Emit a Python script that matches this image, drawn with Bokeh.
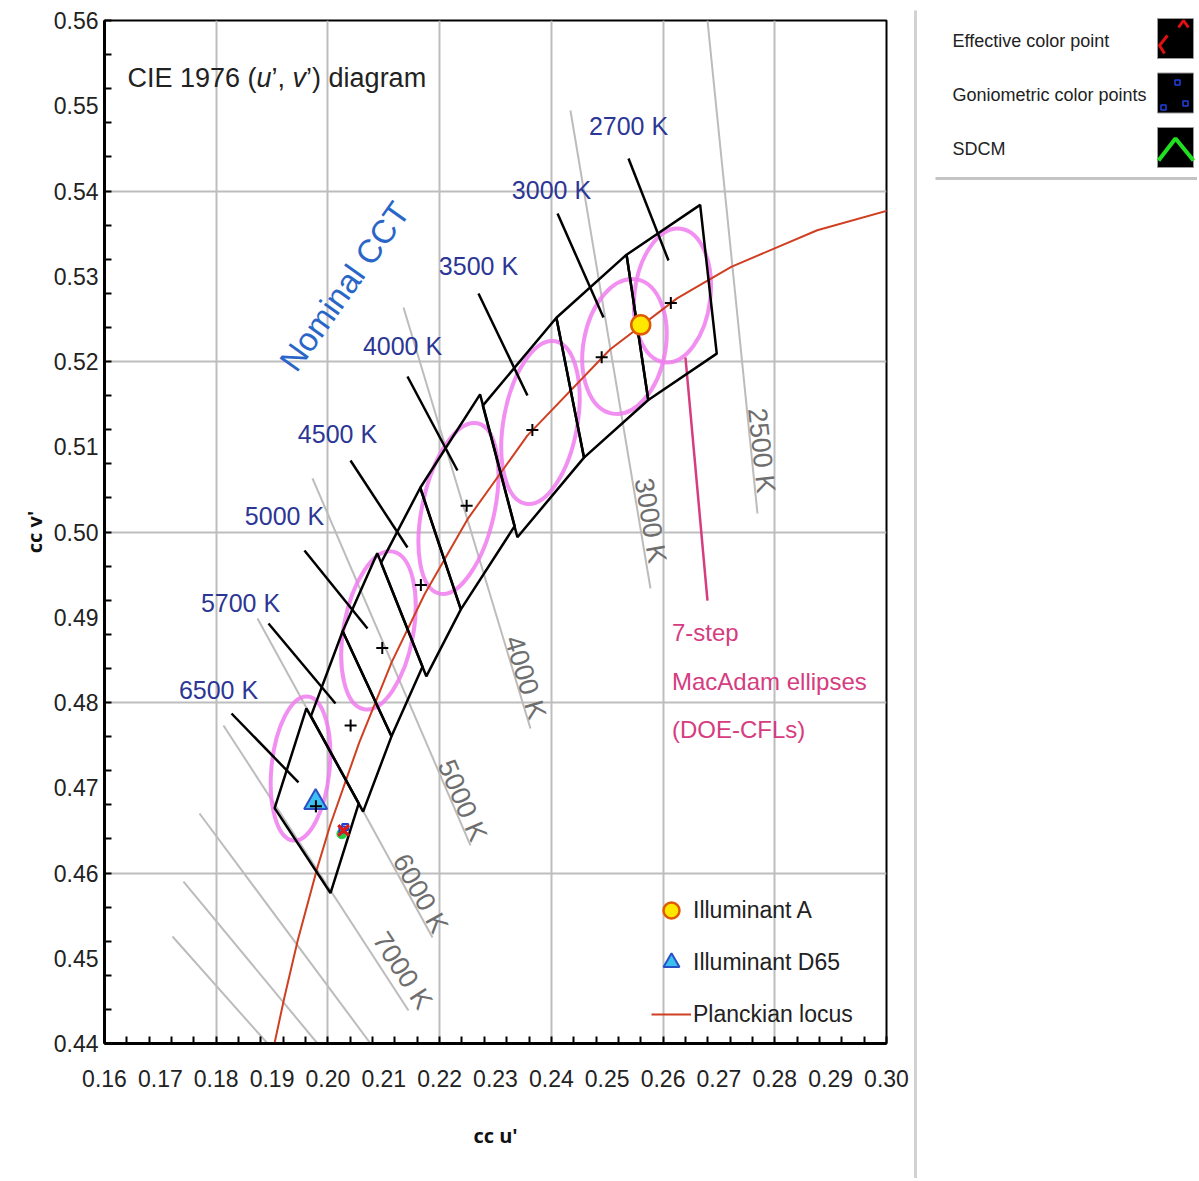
import numpy as np
from bokeh.plotting import figure
from bokeh.layouts import row
from bokeh.models import FixedTicker, Label, Legend, LegendItem, Range1d
from bokeh.embed import file_html
from bokeh.resources import INLINE
from bokeh.core.properties import value

SANS = "Liberation Sans"

# ---------------- data ----------------
x_tick_labels = ["0.16", "0.17", "0.18", "0.19", "0.20", "0.21", "0.22", "0.23",
                 "0.24", "0.25", "0.26", "0.27", "0.28", "0.29", "0.30"]
y_tick_labels = ["0.44", "0.45", "0.46", "0.47", "0.48", "0.49", "0.50", "0.51",
                 "0.52", "0.53", "0.54", "0.55", "0.56"]

# Planckian locus
planck_u = [0.1904, 0.1922, 0.1946, 0.1981, 0.2004, 0.2056, 0.2114, 0.2173,
            0.2251, 0.2357, 0.2505, 0.2625, 0.2722, 0.2876, 0.3051]
planck_v = [0.4399, 0.4454, 0.4521, 0.4606, 0.4656, 0.4753, 0.4847, 0.4927,
            0.5016, 0.5113, 0.5214, 0.5274, 0.5311, 0.5354, 0.5386]

# nominal CCT quadrangles
cct_names = ["2700 K", "3000 K", "3500 K", "4000 K", "4500 K", "5000 K", "5700 K", "6500 K"]
quad_u = [[0.26664, 0.25346, 0.25735, 0.26961],
          [0.25346, 0.24090, 0.24584, 0.25735],
          [0.24090, 0.22773, 0.23392, 0.24584],
          [0.22724, 0.21653, 0.22380, 0.23343],
          [0.21653, 0.20952, 0.21761, 0.22380],
          [0.20883, 0.20264, 0.21138, 0.21693],
          [0.20264, 0.19696, 0.20630, 0.21138],
          [0.19614, 0.19046, 0.20046, 0.20552]]
quad_v = [[0.53837, 0.53253, 0.51548, 0.52092],
          [0.53253, 0.52513, 0.50873, 0.51548],
          [0.52513, 0.51483, 0.49938, 0.50873],
          [0.51614, 0.50519, 0.49092, 0.50069],
          [0.50519, 0.49640, 0.48307, 0.49092],
          [0.49752, 0.48836, 0.47603, 0.48420],
          [0.48836, 0.47840, 0.46720, 0.47603],
          [0.47931, 0.46761, 0.45765, 0.46816]]
center_u = [0.26139, 0.24901, 0.23660, 0.22483, 0.21664, 0.20973, 0.20406, 0.19785]
center_v = [0.52685, 0.52049, 0.51197, 0.50308, 0.49377, 0.48640, 0.47731, 0.46783]

# CCT label positions and pointer lines
label_u = [0.25381, 0.24002, 0.22695, 0.21335, 0.20171, 0.19222, 0.18435, 0.18041]
label_v = [0.54768, 0.54006, 0.53126, 0.52176, 0.51144, 0.50182, 0.49173, 0.48152]
ptr_u0 = [0.25381, 0.24110, 0.22695, 0.21424, 0.20404, 0.19580, 0.18936, 0.18274]
ptr_v0 = [0.54381, 0.53736, 0.52798, 0.51824, 0.50839, 0.49783, 0.48927, 0.47871]
ptr_u1 = [0.26097, 0.24933, 0.23572, 0.22319, 0.21424, 0.20708, 0.20135, 0.19473]
ptr_v1 = [0.53185, 0.52516, 0.51601, 0.50721, 0.49818, 0.48868, 0.47988, 0.47062]

# isotherm (CCT) lines
iso_names = ["2500 K", "3000 K", "4000 K", "5000 K", "6000 K", "7000 K"]
iso_u0 = [0.26795, 0.24342, 0.21353, 0.19724, 0.18739, 0.18130, 0.17701, 0.17414, 0.17217]
iso_v0 = [0.56000, 0.54944, 0.52633, 0.50628, 0.48985, 0.47730, 0.46698, 0.45900, 0.45255]
iso_u1 = [0.27690, 0.25775, 0.23626, 0.22552, 0.21872, 0.21442, 0.20762, 0.19813, 0.18918]
iso_v1 = [0.50217, 0.49337, 0.47695, 0.46323, 0.45243, 0.44387, 0.44000, 0.44000, 0.44000]
iso_lab_u = [0.27762, 0.25775, 0.23537, 0.22409, 0.21657, 0.21335]
iso_lab_v = [0.50956, 0.50135, 0.48293, 0.46850, 0.45759, 0.44856]
iso_lab_angle = [-1.463, -1.405, -1.278, -1.164, -1.070, -0.995]

# 7-step MacAdam ellipses (DOE-CFLs)
ell_u = [0.19509, 0.20905, 0.22337, 0.23805, 0.25309, 0.26168]
ell_v = [0.47226, 0.48845, 0.50276, 0.51284, 0.52176, 0.52774]
ell_w = [0.0104, 0.0125, 0.0129, 0.0132, 0.0147, 0.0136]
ell_h = [0.0170, 0.0188, 0.0205, 0.0194, 0.0160, 0.0158]
ell_angle = [-0.10, -0.18, -0.22, -0.18, -0.18, -0.12]
mac_ptr_u = [0.26401, 0.26795]
mac_ptr_v = [0.52047, 0.49196]
mac_text = ["7-step", "MacAdam ellipses", "(DOE-CFLs)"]
mac_text_u = [0.26160, 0.26160, 0.26160]
mac_text_v = [0.48821, 0.48246, 0.47683]

# illuminants and measured points
illA_u, illA_v = [0.2560], [0.5243]
d65_u, d65_v = [0.1978], [0.4683]
eff_u, eff_v = [0.2028], [0.4650]
gonio_u, gonio_v = [0.2031, 0.2026], [0.4654, 0.4651]
sdcm_u, sdcm_v = [0.2025], [0.4646]

panel_names = ["Effective color point", "Goniometric color points", "SDCM"]

# ---------------- main figure ----------------
x_vals = [float(s) for s in x_tick_labels]
y_vals = [float(s) for s in y_tick_labels]
x_minor = [round(v, 3) for v in np.arange(0.16, 0.3001, 0.004)]
y_minor = [round(v, 3) for v in np.arange(0.44, 0.5601, 0.004)]

p = figure(width=913, height=1178, x_range=Range1d(0.16, 0.30), y_range=Range1d(0.44, 0.56),
           toolbar_location=None, output_backend="svg",
           min_border_left=104, min_border_right=27, min_border_top=20, min_border_bottom=135)
p.background_fill_color = "white"
p.border_fill_color = "white"
p.outline_line_color = "black"
p.outline_line_width = 2
p.frame_align = False

for ax, vals, labels, minor in ((p.xaxis[0], x_vals, x_tick_labels, x_minor),
                                (p.yaxis[0], y_vals, y_tick_labels, y_minor)):
    ax.ticker = FixedTicker(ticks=vals, minor_ticks=minor)
    ax.major_label_overrides = {v: s for v, s in zip(vals, labels)}
    ax.major_tick_line_color = None
    ax.major_tick_in = 0
    ax.major_tick_out = 0
    ax.minor_tick_in = 7
    ax.minor_tick_out = 0
    ax.minor_tick_line_color = "black"
    ax.minor_tick_line_width = 2
    ax.axis_line_color = "black"
    ax.axis_line_width = 3
    ax.major_label_text_font = SANS
    ax.major_label_text_font_size = "23px"
    ax.major_label_text_color = "#222222"
    ax.axis_label_text_font = "Open Sans"
    ax.axis_label_text_font_style = "bold"
    ax.axis_label_text_font_size = "20px"
    ax.axis_label_text_color = "#111111"

p.xaxis.axis_label = "cc u'"
p.yaxis.axis_label = "cc v'"
p.xaxis.major_label_standoff = 26
p.yaxis.major_label_standoff = 6
p.xaxis.axis_label_standoff = 32
p.yaxis.axis_label_standoff = 3

p.xgrid.ticker = FixedTicker(ticks=x_vals[::2])
p.ygrid.ticker = FixedTicker(ticks=y_vals[::2])
for g in (p.xgrid, p.ygrid):
    g.grid_line_color = "#bdbdbd"
    g.grid_line_width = 2

# isotherm lines
p.segment(x0=iso_u0, y0=iso_v0, x1=iso_u1, y1=iso_v1, line_color="#bcbcbc", line_width=2)
p.text(x=iso_lab_u, y=iso_lab_v, text=iso_names, angle=iso_lab_angle,
       text_font=value(SANS), text_font_size="27px", text_color="#6e6e6e",
       text_align="center", text_baseline="middle")

# MacAdam ellipses
p.ellipse(x=ell_u, y=ell_v, width=ell_w, height=ell_h, angle=ell_angle,
          fill_color=None, line_color="#f07cf0", line_width=4, line_alpha=0.85)
p.line(x=mac_ptr_u, y=mac_ptr_v, line_color="#d63c80", line_width=2.5)
p.text(x=mac_text_u, y=mac_text_v, text=mac_text, text_font=value(SANS),
       text_font_size="24px", text_color="#d63c80", text_align="left", text_baseline="middle")

# Planckian locus
planck_r = p.line(x=planck_u, y=planck_v, line_color="#cf3f22", line_width=2)

# quadrangles and nominal CCT labels
p.patches(xs=quad_u, ys=quad_v, fill_color=None, line_color="black", line_width=2.5)
p.segment(x0=ptr_u0, y0=ptr_v0, x1=ptr_u1, y1=ptr_v1, line_color="black", line_width=2.5)
p.scatter(x=center_u, y=center_v, marker="cross", size=12, line_color="black", line_width=2)
p.text(x=label_u, y=label_v, text=cct_names, text_font=value(SANS), text_font_size="25px",
       text_color="#2c3694", text_align="center", text_baseline="middle")

p.add_layout(Label(x=0.20296, y=0.52880, text="Nominal CCT", angle=0.953,
                   text_font=SANS, text_font_size="33px", text_color="#2a66c8",
                   text_align="center", text_baseline="middle"))

# illuminants
illA_r = p.scatter(x=illA_u, y=illA_v, marker="circle", size=19, fill_color="#ffe800",
                   line_color="#e05a00", line_width=2.5)
d65_r = p.scatter(x=d65_u, y=d65_v, marker="triangle", size=23, fill_color="#3cc0f0",
                  line_color="#2a50c8", line_width=2)
p.scatter(x=center_u[-1:], y=center_v[-1:], marker="cross", size=12, line_color="black", line_width=2)

# measured points
p.scatter(x=sdcm_u, y=sdcm_v, marker="circle", size=10, fill_color="#22cc44", line_color="#22cc44")
p.scatter(x=gonio_u, y=gonio_v, marker="square", size=6, fill_color=None, line_color="#2040d0", line_width=2)
p.scatter(x=eff_u, y=eff_v, marker="x", size=15, line_color="#e01818", line_width=3)

# title in pieces (italic u and v)
title_parts = ["CIE 1976 (", "u", "\u2019, ", "v", "\u2019) diagram"]
title_styles = ["normal", "italic", "normal", "italic", "normal"]
title_em = [4.78, 0.556, 0.778, 0.5, 4.445]
title_size = 27
off = 0.0
for part, st, em in zip(title_parts, title_styles, title_em):
    p.add_layout(Label(x=0.16412, y=0.55320, x_offset=off, text=part, text_font=SANS,
                       text_font_style=st, text_font_size=f"{title_size}px", text_color="#222222",
                       text_baseline="alphabetic"))
    off += em * title_size

# in-plot legend
legend = Legend(items=[LegendItem(label="Illuminant A", renderers=[illA_r]),
                       LegendItem(label="Illuminant D65", renderers=[d65_r]),
                       LegendItem(label="Planckian locus", renderers=[planck_r])],
                location=(547, 9))
legend.background_fill_alpha = 0
legend.border_line_color = None
legend.label_text_font = SANS
legend.label_text_font_size = "23px"
legend.label_text_color = "#222222"
legend.glyph_width = 40
legend.glyph_height = 40
legend.label_height = 40
legend.spacing = 12
legend.padding = 0
legend.margin = 0
legend.label_standoff = 2
p.add_layout(legend)

# ---------------- right panel ----------------
p2 = figure(width=284, height=1178, x_range=Range1d(0, 284), y_range=Range1d(1178, 0),
            toolbar_location=None, output_backend="svg", min_border=0)
p2.frame_align = False
p2.axis.visible = False
p2.grid.visible = False
p2.outline_line_color = None
p2.background_fill_color = "white"
p2.border_fill_color = "white"

row_y = [40, 94, 148]
box_y = [38, 92.5, 147]
p2.segment(x0=[2], y0=[10], x1=[2], y1=[1178], line_color="#d2d2d2", line_width=3)
p2.segment(x0=[22], y0=[178], x1=[284], y1=[178], line_color="#c4c4c4", line_width=3)
p2.text(x=[39] * 3, y=row_y, text=panel_names, text_font=value(SANS), text_font_size="18px",
        text_color="#222222", text_align="left", text_baseline="middle")
p2.rect(x=[262] * 3, y=box_y, width=36, height=40, fill_color="black", line_color="#999999", line_width=1)
p2.line(x=[254, 246, 251], y=[35, 45, 53], line_color="#e01010", line_width=3)
p2.line(x=[265, 270, 275], y=[27, 20, 27], line_color="#e01010", line_width=3)
p2.scatter(x=[264, 250, 272], y=[82, 107, 103], marker="square", size=5, fill_color=None,
           line_color="#2040e0", line_width=1.5)
p2.line(x=[245, 262, 280], y=[160, 138, 160], line_color="#20e020", line_width=4)

layout = row(p, p2)
open("out.html", "w").write(file_html(layout, INLINE))
